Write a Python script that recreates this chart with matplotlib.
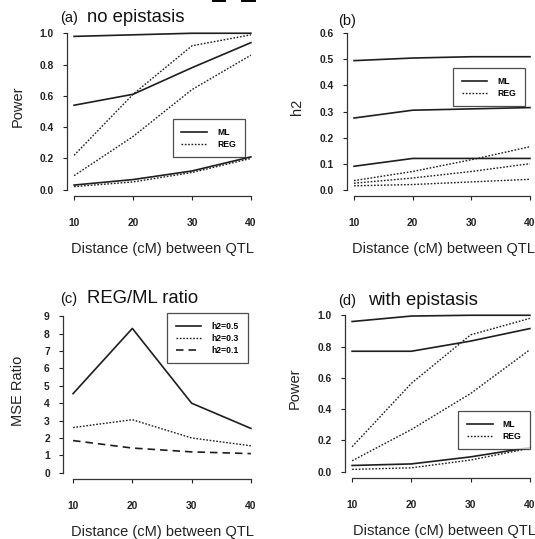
import matplotlib
matplotlib.use("Agg")
import matplotlib.pyplot as plt
from matplotlib.lines import Line2D

plt.rcParams['font.family'] = ['Liberation Sans', 'DejaVu Sans']

# ---- data -------------------------------------------------------------
distance = [10, 20, 30, 40]
x_ticks = [10, 20, 30, 40]

# (a) power without epistasis, one curve per heritability level
power_ml_noepi = [
    [0.98, 0.99, 1.00, 1.00],
    [0.54, 0.61, 0.78, 0.94],
    [0.03, 0.065, 0.12, 0.21],
]
power_reg_noepi = [
    [0.22, 0.61, 0.92, 0.99],
    [0.09, 0.34, 0.64, 0.86],
    [0.02, 0.05, 0.11, 0.20],
]

# (b) estimated heritability
h2_ml = [
    [0.495, 0.505, 0.51, 0.51],
    [0.275, 0.305, 0.31, 0.315],
    [0.09, 0.12, 0.12, 0.12],
]
h2_reg = [
    [0.035, 0.07, 0.115, 0.165],
    [0.025, 0.045, 0.07, 0.10],
    [0.015, 0.02, 0.03, 0.04],
]

# (c) MSE ratio REG/ML
mse_ratio_h2_05 = [4.55, 8.3, 4.0, 2.55]
mse_ratio_h2_03 = [2.6, 3.05, 2.0, 1.55]
mse_ratio_h2_01 = [1.85, 1.42, 1.2, 1.1]
ratio_labels = ['h2=0.5', 'h2=0.3', 'h2=0.1']

# (d) power with epistasis
power_ml_epi = [
    [0.96, 0.995, 1.00, 1.00],
    [0.77, 0.77, 0.835, 0.915],
    [0.04, 0.05, 0.095, 0.155],
]
power_reg_epi = [
    [0.16, 0.565, 0.875, 0.98],
    [0.07, 0.27, 0.50, 0.78],
    [0.015, 0.025, 0.075, 0.15],
]

power_ticks = [0.0, 0.2, 0.4, 0.6, 0.8, 1.0]
h2_ticks = [0.0, 0.1, 0.2, 0.3, 0.4, 0.5, 0.6]
ratio_ticks = list(range(0, 10))

# ---- figure -----------------------------------------------------------
W, H = 535, 539
fig = plt.figure(figsize=(W / 100, H / 100), dpi=100)
fig.patch.set_facecolor('white')

INK = '#1e1e1e'
SOLID = dict(color=INK, lw=1.2, linestyle='-')
DOTTED = dict(color=INK, lw=1.0, linestyle=(0, (1.2, 1.2)))
DASHED = dict(color=INK, lw=1.2, linestyle=(0, (4.5, 3.0)))


def px_axes(left, top, right, bottom):
    return fig.add_axes([left / W, 1 - bottom / H, (right - left) / W, (bottom - top) / H])


def style(ax, xlim, ylim, yticks, yfmt):
    ax.set_xlim(*xlim)
    ax.set_ylim(*ylim)
    for s in ('top', 'right'):
        ax.spines[s].set_visible(False)
    ax.spines['left'].set_bounds(yticks[0], yticks[-1])
    ax.spines['bottom'].set_bounds(x_ticks[0], x_ticks[-1])
    for s in ('left', 'bottom'):
        ax.spines[s].set_linewidth(0.9)
        ax.spines[s].set_color('#333333')
    ax.set_xticks(x_ticks)
    ax.set_xticklabels([str(v) for v in x_ticks])
    ax.set_yticks(yticks)
    ax.set_yticklabels([yfmt.format(v) for v in yticks])
    ax.tick_params(axis='x', length=3, width=0.8, pad=13, labelsize=7.4, colors='#222222')
    ax.tick_params(axis='y', length=3, width=0.8, pad=6.5, labelsize=7.4, colors='#222222')
    for lab in ax.get_xticklabels() + ax.get_yticklabels():
        lab.set_fontweight('bold')
    ax.set_xlabel('Distance (cM) between QTL', fontsize=10.5, color='#222222')
    ax.patch.set_alpha(0)


def legend(ax, handles, labels, anchor):
    leg = ax.legend(handles, labels, loc='upper left', bbox_to_anchor=anchor,
                    frameon=True, fancybox=False, borderaxespad=0,
                    borderpad=1.0, handlelength=3.0, handletextpad=1.2,
                    labelspacing=0.35, prop={'weight': 'bold', 'size': 6.2})
    fr = leg.get_frame()
    fr.set_edgecolor('#222222')
    fr.set_linewidth(0.9)
    fr.set_facecolor('white')
    return leg


def title(x, y, tag, text):
    fig.text(x[0] / W, 1 - y / H, tag, fontsize=10.5, va='baseline', color='#111111')
    fig.text(x[1] / W, 1 - y / H, text, fontsize=13.3, va='baseline', color='#111111')


ml_handle = Line2D([], [], **SOLID)
reg_handle = Line2D([], [], **DOTTED)

# (a) no epistasis
ax_a = px_axes(67, 27, 258, 196)
for ys in power_ml_noepi:
    ax_a.plot(distance, ys, **SOLID)
for ys in power_reg_noepi:
    ax_a.plot(distance, ys, **DOTTED)
style(ax_a, (8.8, 41.2), (-0.04, 1.04), power_ticks, '{:.1f}')
ax_a.set_ylabel('Power', fontsize=10.5, color='#222222')
ax_a.yaxis.set_label_coords(-0.22, 0.53)
ax_a.xaxis.set_label_coords(0.5, -0.275)
legend(ax_a, [ml_handle, reg_handle], ['ML', 'REG'], (0.553, 0.456))
title((60, 87), 22, '(a)', 'no epistasis')

# (b) heritability
ax_b = px_axes(347, 27, 537, 196)
for ys in h2_ml:
    ax_b.plot(distance, ys, **SOLID)
for ys in h2_reg:
    ax_b.plot(distance, ys, **DOTTED)
style(ax_b, (8.8, 41.2), (-0.024, 0.624), h2_ticks, '{:.1f}')
ax_b.set_ylabel('h2', fontsize=10.5, color='#222222')
ax_b.yaxis.set_label_coords(-0.228, 0.53)
ax_b.xaxis.set_label_coords(0.51, -0.275)
legend(ax_b, [ml_handle, reg_handle], ['ML', 'REG'], (0.558, 0.757))
fig.text(338 / W, 1 - 24.5 / H, '(b)', fontsize=10.5, va='baseline', color='#111111')

# (c) MSE ratio
ax_c = px_axes(63, 310, 258, 479)
ax_c.plot(distance, mse_ratio_h2_05, **SOLID)
ax_c.plot(distance, mse_ratio_h2_03, **DOTTED)
ax_c.plot(distance, mse_ratio_h2_01, **DASHED)
style(ax_c, (8.3, 41.2), (-0.36, 9.36), ratio_ticks, '{:d}')
ax_c.set_ylabel('MSE Ratio', fontsize=10.5, color='#222222')
ax_c.yaxis.set_label_coords(-0.195, 0.52)
ax_c.xaxis.set_label_coords(0.51, -0.275)
legend(ax_c, [Line2D([], [], **SOLID), Line2D([], [], **DOTTED), Line2D([], [], **DASHED)],
       ratio_labels, (0.533, 0.982))
title((60, 87), 303, '(c)', 'REG/ML ratio')

# (d) with epistasis
ax_d = px_axes(345, 309, 537, 478)
for ys in power_ml_epi:
    ax_d.plot(distance, ys, **SOLID)
for ys in power_reg_epi:
    ax_d.plot(distance, ys, **DOTTED)
style(ax_d, (8.8, 41.2), (-0.04, 1.04), power_ticks, '{:.1f}')
ax_d.set_ylabel('Power', fontsize=10.5, color='#222222')
ax_d.yaxis.set_label_coords(-0.225, 0.53)
ax_d.xaxis.set_label_coords(0.516, -0.275)
legend(ax_d, [ml_handle, reg_handle], ['ML', 'REG'], (0.589, 0.396))
title((338, 368), 305, '(d)', 'with epistasis')

# small rule fragments along the top edge
for x0, x1 in ((213, 225), (242, 255)):
    fig.add_artist(Line2D([x0 / W, x1 / W], [1 - 0.8 / H, 1 - 0.8 / H],
                          transform=fig.transFigure, color='black', lw=1.4))

fig.savefig('out.png', dpi=100, facecolor='white')
